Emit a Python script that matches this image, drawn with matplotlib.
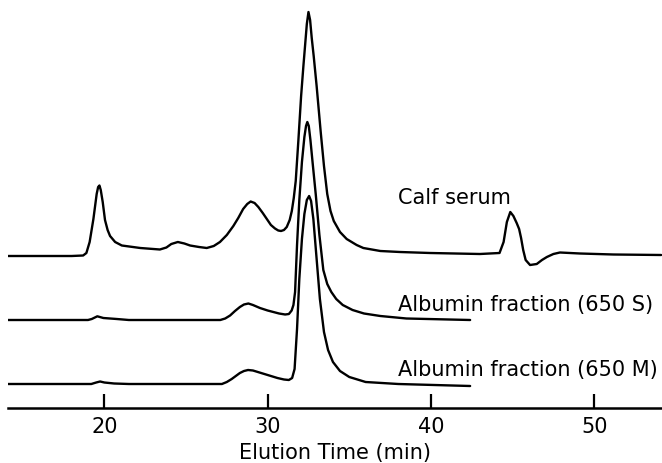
import matplotlib.pyplot as plt

# elution time (min) and detector response (arbitrary units, above each trace's baseline)
serum_t = [14.1, 18.0, 18.7, 18.9, 19.1, 19.33, 19.53, 19.62, 19.7, 19.78, 19.9, 20.04,
           20.2, 20.35, 20.66, 21.07, 22.2, 23.4, 23.8, 24.1, 24.5, 24.9, 25.25, 25.8,
           26.27, 26.7, 27.08, 27.5, 27.9, 28.2, 28.5, 28.75, 28.96, 29.2, 29.43, 29.7,
           29.95, 30.2, 30.45, 30.65, 30.82, 31.0, 31.17, 31.35, 31.48, 31.6, 31.72,
           31.88, 32.05, 32.19, 32.3, 32.4, 32.5, 32.6, 32.7, 32.82, 33.0, 33.25, 33.45,
           33.65, 33.85, 34.05, 34.43, 34.84, 35.45, 35.86, 36.9, 38.1, 39.95, 43.0, 44.2,
           44.45, 44.65, 44.86, 45.05, 45.25, 45.4, 45.52, 45.65, 45.8, 46.07, 46.48,
           46.8, 47.1, 47.5, 47.9, 49.13, 51.17, 54.1]
serum_h = [0, 0, 0.5, 3, 14, 37, 62, 69, 70.5, 66, 54, 36,
           26, 20, 14, 10.5, 8, 6.5, 8.5, 12, 14, 12.5, 10.5, 9,
           8, 10, 14, 21, 30, 38, 47, 52, 54.5, 53, 49, 43,
           37, 31, 27.5, 25.5, 25, 26, 29, 36, 45, 58, 75,
           115, 160, 190, 212, 232, 244, 236, 218, 200, 170, 124, 90,
           62, 45, 35, 24, 17, 11, 8, 5, 4, 3, 2, 3,
           14, 34, 44, 40, 33, 27, 18, 6, -4, -9, -8,
           -4, -1, 2, 3.5, 2.5, 1.5, 1]

s650_t = [14.1, 19.0, 19.23, 19.57, 19.94, 20.76, 21.5, 27.1, 27.4, 27.7, 28.0, 28.3,
          28.55, 28.82, 29.1, 29.53, 30.0, 30.35, 30.7, 31.07, 31.3, 31.47, 31.58, 31.68,
          31.8, 31.94, 32.1, 32.25, 32.35, 32.43, 32.52, 32.62, 32.75, 32.95, 33.17,
          33.41, 33.65, 33.9, 34.2, 34.6, 35.2, 35.9, 36.9, 38.5, 42.4]
s650_h = [0, 0, 1, 3.7, 2, 1, 0, 0, 1.5, 4.5, 9, 13,
          15.5, 16.5, 15, 12, 9.5, 8, 6.5, 5.5, 6, 9.5, 15, 28,
          75, 120, 158, 183, 194, 198, 194, 180, 158, 125, 85,
          50, 36, 28, 21, 15, 10, 6.5, 4, 1.5, 0]

m650_t = [14.1, 19.2, 19.5, 19.74, 20.0, 20.6, 21.5, 27.2, 27.5, 27.8, 28.05, 28.3,
          28.55, 28.8, 29.1, 29.4, 29.8, 30.2, 30.6, 31.0, 31.3, 31.5, 31.65, 31.8,
          31.94, 32.1, 32.25, 32.4, 32.54, 32.66, 32.8, 33.0, 33.2, 33.45, 33.7,
          34.0, 34.43, 35.0, 36.0, 38.0, 42.4]
m650_h = [0, 0, 1.5, 2.5, 1.5, 0.5, 0, 0, 2, 5, 8, 11,
          13, 14, 13.5, 12, 10, 8, 6, 4.5, 4, 6, 15, 55,
          105, 145, 170, 184, 188, 183, 165, 125, 85, 52, 34,
          22, 13, 7, 2, 0, -2]

traces = [(serum_t, serum_h), (s650_t, s650_h), (m650_t, m650_h)]
names = ['Calf serum', 'Albumin fraction (650 S)', 'Albumin fraction (650 M)']
offsets = [152, 88, 24]
label_y = [211, 104, 39]
ticks = [20, 30, 40, 50]

fig = plt.figure(figsize=(6.62, 4.64), dpi=100)
ax = fig.add_axes([8 / 662, 55 / 464, 654 / 662, 409 / 464])

for (t, h), off in zip(traces, offsets):
    ax.plot(t, [v + off for v in h], color='black', lw=1.7,
            solid_joinstyle='round', solid_capstyle='round')

for name, y in zip(names, label_y):
    ax.text(38.0, y, name, fontsize=15, ha='left', va='center')

ax.set_xlim(14.1, 54.15)
ax.set_ylim(0, 409)
for side in ['left', 'right', 'top']:
    ax.spines[side].set_visible(False)
ax.spines['bottom'].set_linewidth(1.8)
ax.set_yticks([])
ax.set_xticks(ticks)
ax.tick_params(axis='x', direction='in', length=10, width=1.6, labelsize=15, pad=6)
ax.set_xlabel('Elution Time (min)', fontsize=15, labelpad=4)

fig.savefig('out.png', dpi=100)
